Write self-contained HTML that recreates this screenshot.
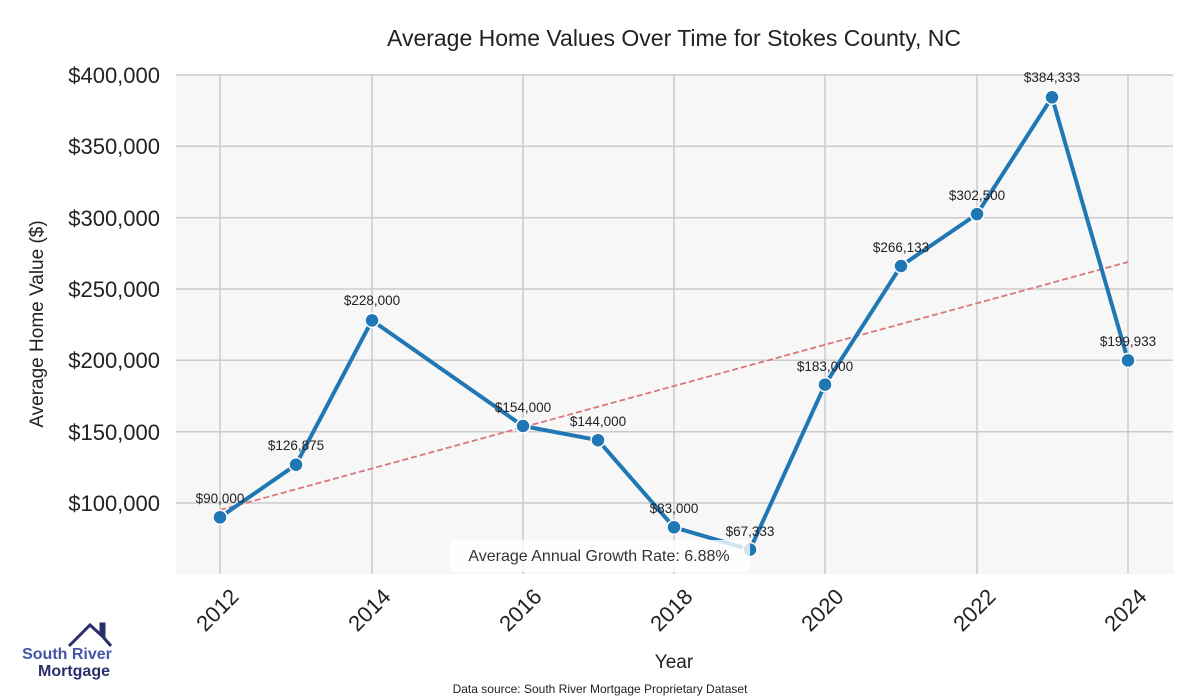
<!DOCTYPE html>
<html><head><meta charset="utf-8"><style>body{margin:0;background:#fff}svg{display:block}text{font-family:"Liberation Sans",sans-serif}</style></head><body>
<svg width="1200" height="700" viewBox="0 0 1200 700">
<rect x="176" y="74" width="997" height="500" fill="#f7f7f7"/>
<g stroke="#cccccc" stroke-width="1.5">
<line x1="176" x2="1173" y1="75" y2="75"/><line x1="176" x2="1173" y1="146.3" y2="146.3"/><line x1="176" x2="1173" y1="217.7" y2="217.7"/><line x1="176" x2="1173" y1="289" y2="289"/><line x1="176" x2="1173" y1="360.3" y2="360.3"/><line x1="176" x2="1173" y1="431.7" y2="431.7"/><line x1="176" x2="1173" y1="503" y2="503"/>
<line x1="220" x2="220" y1="74" y2="574"/><line x1="372" x2="372" y1="74" y2="574"/><line x1="523" x2="523" y1="74" y2="574"/><line x1="674" x2="674" y1="74" y2="574"/><line x1="825" x2="825" y1="74" y2="574"/><line x1="977" x2="977" y1="74" y2="574"/><line x1="1128" x2="1128" y1="74" y2="574"/>
</g>
<line x1="220" y1="510" x2="1128" y2="262" stroke="#d9777a" stroke-width="1.8" stroke-dasharray="6,3"/>
<polyline fill="none" stroke="#1f77b4" stroke-width="4" stroke-linejoin="round" points="220,517.3 296,464.7 372,320.4 523,426 598,440.2 674,527.3 750,549.6 825,384.6 901,266 977,214.1 1052,97.3 1128,360.4"/>
<g fill="#1f77b4" stroke="#fff" stroke-width="1.5">
<circle cx="220" cy="517.3" r="7"/><circle cx="296" cy="464.7" r="7"/><circle cx="372" cy="320.4" r="7"/><circle cx="523" cy="426" r="7"/><circle cx="598" cy="440.2" r="7"/><circle cx="674" cy="527.3" r="7"/><circle cx="750" cy="549.6" r="7"/><circle cx="825" cy="384.6" r="7"/><circle cx="901" cy="266" r="7"/><circle cx="977" cy="214.1" r="7"/><circle cx="1052" cy="97.3" r="7"/><circle cx="1128" cy="360.4" r="7"/>
</g>
<g font-size="13.5" fill="#222" text-anchor="middle">
<text x="220" y="503">$90,000</text><text x="296" y="450">$126,875</text><text x="372" y="305">$228,000</text><text x="523" y="412">$154,000</text><text x="598" y="426">$144,000</text><text x="674" y="513">$83,000</text><text x="750" y="536">$67,333</text><text x="825" y="371">$183,000</text><text x="901" y="252">$266,133</text><text x="977" y="200">$302,500</text><text x="1052" y="82">$384,333</text><text x="1128" y="346">$199,933</text>
</g>
<rect x="449" y="540" width="301" height="32" rx="6" fill="#fff" fill-opacity="0.8"/>
<text x="599" y="561" font-size="16" fill="#333" text-anchor="middle">Average Annual Growth Rate: 6.88%</text>
<g font-size="22" fill="#222" text-anchor="end">
<text x="160" y="83">$400,000</text><text x="160" y="154">$350,000</text><text x="160" y="226">$300,000</text><text x="160" y="297">$250,000</text><text x="160" y="368">$200,000</text><text x="160" y="440">$150,000</text><text x="160" y="511">$100,000</text>
</g>
<g font-size="22" fill="#222" text-anchor="end">
<text transform="translate(240,598) rotate(-45)">2012</text><text transform="translate(392,598) rotate(-45)">2014</text><text transform="translate(543,598) rotate(-45)">2016</text><text transform="translate(694,598) rotate(-45)">2018</text><text transform="translate(845,598) rotate(-45)">2020</text><text transform="translate(997,598) rotate(-45)">2022</text><text transform="translate(1148,598) rotate(-45)">2024</text>
</g>
<text x="674" y="668" font-size="19" fill="#222" text-anchor="middle">Year</text>
<text transform="translate(43,324) rotate(-90)" font-size="19" fill="#222" text-anchor="middle">Average Home Value ($)</text>
<text x="674" y="46" font-size="23" fill="#222" text-anchor="middle">Average Home Values Over Time for Stokes County, NC</text>
<text x="600" y="693" font-size="12" fill="#222" text-anchor="middle">Data source: South River Mortgage Proprietary Dataset</text>
<polyline points="69,646 90,625 101,635 101,624 104,624 104,638 111,646" fill="none" stroke="#2b2f6b" stroke-width="3"/>
<text x="67" y="659" font-size="16" font-weight="bold" fill="#4455a8" text-anchor="middle">South River</text>
<text x="74" y="676" font-size="16" font-weight="bold" fill="#2b2f6b" text-anchor="middle">Mortgage</text>
</svg>
</body></html>
